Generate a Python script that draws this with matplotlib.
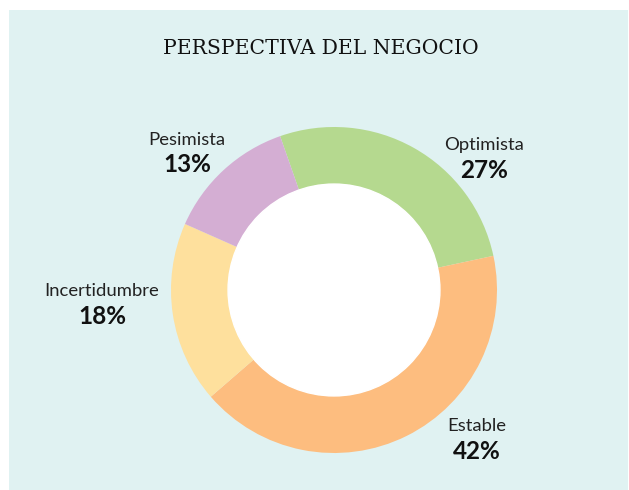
import matplotlib
matplotlib.use("Agg")
import matplotlib.pyplot as plt
from matplotlib.patches import Rectangle

# data
labels = ["Optimista", "Estable", "Incertidumbre", "Pesimista"]
shares = [27, 42, 18, 13]
colors = ["#b5d98f", "#fdbd7f", "#fee09d", "#d4aed3"]

W, H = 629, 490
cx, cy, R = 334, 290, 163   # pie centre / radius in pixels

fig = plt.figure(figsize=(W / 100, H / 100), dpi=100)
fig.patch.set_facecolor("white")

ax = fig.add_axes([0, 0, 1, 1])
ax.set_axis_off()
ax.patch.set_alpha(0)
ax.add_patch(Rectangle((9 / W, 0), (628 - 9) / W, (H - 10) / H,
                       transform=fig.transFigure, facecolor="#e0f2f2",
                       edgecolor="none", zorder=-5))

ax.pie(shares, colors=colors, startangle=109.3, counterclock=False,
       radius=1, wedgeprops=dict(width=0.35, edgecolor="none"))
ax.add_patch(plt.Circle((0, 0), 0.65, color="white", zorder=3))
ax.set_aspect("auto")
ax.set_xlim(-cx / R, (W - cx) / R)
ax.set_ylim(-(H - cy) / R, cy / R)

# label anchor points (pixels, from top-left)
label_px = [(484, 145), (477, 426), (102, 291), (187, 140)]
for name, val, (px, py) in zip(labels, shares, label_px):
    x = (px - cx) / R
    y = (cy - py) / R
    ax.text(x, y, name, ha="center", va="center", fontsize=13.3,
            family="Lato", color="#222222")
    ax.text(x, y - 25 / R, f"{val}%", ha="center", va="center", fontsize=17.5,
            family="Lato", fontweight="bold", color="#111111")

fig.text((163 + 478) / 2 / W, 1 - 49 / H, "PERSPECTIVA DEL NEGOCIO",
         ha="center", va="center", fontsize=14.7, family="DejaVu Serif",
         color="#111111")

fig.savefig("out.png", dpi=100)
